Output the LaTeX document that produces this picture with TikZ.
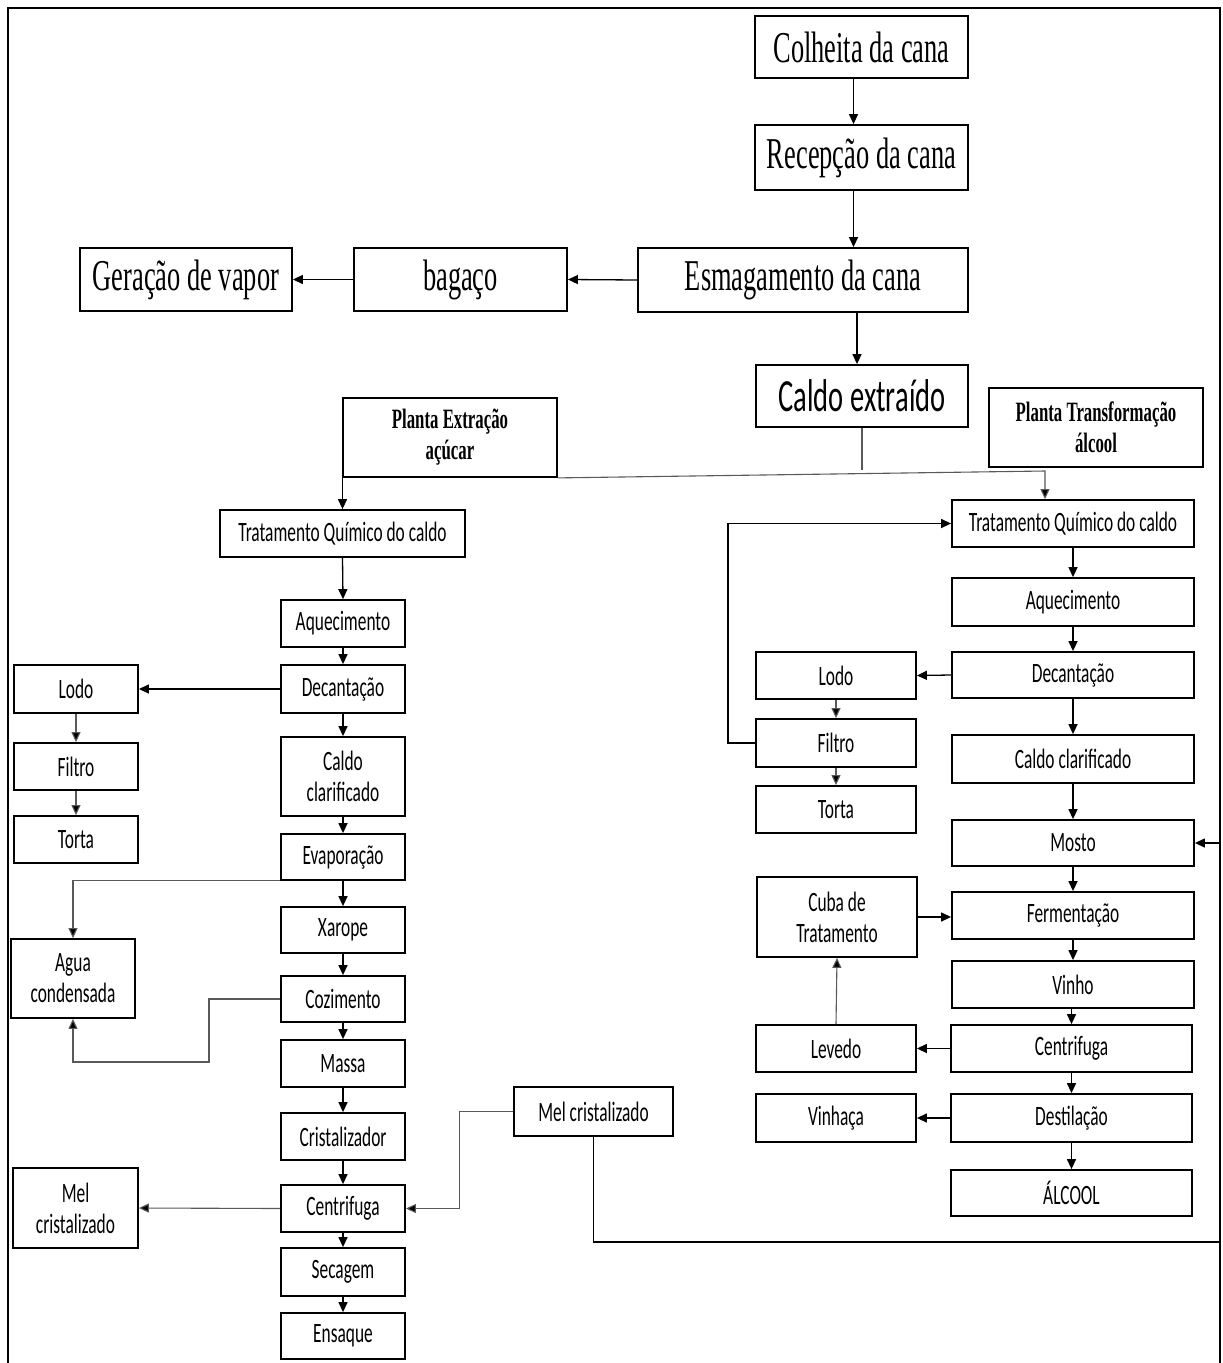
\documentclass[tikz,border=0pt]{standalone}
\usepackage{fontspec}
\newfontfamily\sansf{Carlito}[FakeStretch=0.62]
\newfontfamily\serf{Liberation Serif}[FakeStretch=0.6]
\usetikzlibrary{arrows.meta}

\begin{document}
\begin{tikzpicture}[x=1pt,y=-1pt,
  box/.style={draw,line width=1.8pt,inner sep=0pt,align=center,
    font=\sansf\fontsize{28}{31}\selectfont},
  bigbox/.style={box,font=\serf\fontsize{44}{48}\selectfont},
  juicebox/.style={box,font=\sansf\fontsize{46}{50}\selectfont},
  plantbox/.style={box,font=\serf\bfseries\fontsize{28}{31}\selectfont},
  lk/.style={line width=1.3pt,-{Triangle[length=10pt,width=9pt]}},
  ln/.style={line width=1.1pt,draw=black!65},
  lka/.style={ln,-{Triangle[length=10pt,width=9pt,fill=black]}},
]
\useasboundingbox (0,0) rectangle (1223,1363);

% outer frame
\draw[line width=2.4pt] (8,1363) -- (8,8) -- (1220,8) -- (1220,1363);

% ---------- reception and milling ----------
\node[bigbox,minimum width=213pt,minimum height=62pt] (colheita) at (861.5,47) {Colheita da cana};
\node[bigbox,minimum width=213pt,minimum height=65pt] (recepcao) at (861.5,157.5) {Recepção da cana};
\node[bigbox,minimum width=330pt,minimum height=64pt] (esmag) at (803,280) {Esmagamento da cana};
\node[bigbox,minimum width=213pt,minimum height=63pt] (bagaco) at (460.5,279.5) {bagaço};
\node[bigbox,minimum width=212pt,minimum height=63pt] (geracao) at (186,279.5) {Geração de vapor};
\node[juicebox,minimum width=212pt,minimum height=62pt] (caldoext) at (862,396) {Caldo extraído};

\node[plantbox,minimum width=214pt,minimum height=79pt] (plantaE) at (450,437.5) {Planta Extração\\açúcar};
\node[plantbox,minimum width=214pt,minimum height=79pt] (plantaT) at (1096,427.5) {Planta Transformação\\álcool};

% ---------- sugar plant ----------
\node[box,minimum width=245pt,minimum height=47pt] (tqL) at (342.5,533.5) {Tratamento Químico do caldo};
\node[box,minimum width=124pt,minimum height=47pt] (aqL) at (343,623.5) {Aquecimento};
\node[box,minimum width=124pt,minimum height=48pt] (decL) at (343,689) {Decantação};
\node[box,minimum width=124pt,minimum height=79pt] (ccL) at (343,776.5) {Caldo\\clarificado};
\node[box,minimum width=124pt,minimum height=46pt] (evL) at (343,857) {Evaporação};
\node[box,minimum width=124pt,minimum height=46pt] (xaL) at (343,930) {Xarope};
\node[box,minimum width=124pt,minimum height=46pt] (cozL) at (343,999) {Cozimento};
\node[box,minimum width=124pt,minimum height=47pt] (masL) at (343,1063.5) {Massa};
\node[box,minimum width=124pt,minimum height=47pt] (criL) at (343,1136.5) {Cristalizador};
\node[box,minimum width=124pt,minimum height=47pt] (cenL) at (343,1208.5) {Centrifuga};
\node[box,minimum width=124pt,minimum height=48pt] (secL) at (343,1272) {Secagem};
\node[box,minimum width=124pt,minimum height=46pt] (ensL) at (343,1336) {Ensaque};

\node[box,minimum width=124pt,minimum height=48pt] (lodoL) at (76,689) {Lodo};
\node[box,minimum width=124pt,minimum height=47pt] (filL) at (76,766.5) {Filtro};
\node[box,minimum width=124pt,minimum height=47pt] (torL) at (76,839.5) {Torta};
\node[box,minimum width=124pt,minimum height=79pt] (aguaL) at (73,978.5) {Agua\\condensada};
\node[box,minimum width=125pt,minimum height=80pt] (melL) at (75.5,1208) {Mel\\cristalizado};
\node[box,minimum width=159pt,minimum height=49pt] (melM) at (593.5,1111.5) {Mel cristalizado};

% ---------- alcohol plant ----------
\node[box,minimum width=242pt,minimum height=47pt] (tqR) at (1073,523.5) {Tratamento Químico do caldo};
\node[box,minimum width=242pt,minimum height=48pt] (aqR) at (1073,602) {Aquecimento};
\node[box,minimum width=242pt,minimum height=46pt] (decR) at (1073,675) {Decantação};
\node[box,minimum width=242pt,minimum height=48pt] (ccR) at (1073,759) {Caldo clarificado};
\node[box,minimum width=242pt,minimum height=46pt] (mosR) at (1073,843) {Mosto};
\node[box,minimum width=242pt,minimum height=47pt] (ferR) at (1073,915.5) {Fermentação};
\node[box,minimum width=242pt,minimum height=47pt] (vinR) at (1073,984.5) {Vinho};
\node[box,minimum width=241pt,minimum height=47pt] (cenR) at (1071.5,1048.5) {Centrifuga};
\node[box,minimum width=241pt,minimum height=48pt] (desR) at (1071.5,1118) {Destilação};
\node[box,minimum width=241pt,minimum height=46pt] (alcR) at (1071.5,1193) {ÁLCOOL};

\node[box,minimum width=160pt,minimum height=47pt] (lodoR) at (836,675.5) {Lodo};
\node[box,minimum width=160pt,minimum height=48pt] (filR) at (836,743) {Filtro};
\node[box,minimum width=160pt,minimum height=47pt] (torR) at (836,809.5) {Torta};
\node[box,minimum width=160pt,minimum height=80pt] (cubaR) at (837,917) {Cuba de\\Tratamento};
\node[box,minimum width=160pt,minimum height=47pt] (levR) at (836,1048.5) {Levedo};
\node[box,minimum width=160pt,minimum height=48pt] (vinhR) at (836,1118) {Vinhaça};

% ---------- connectors: reception and milling ----------
\draw[lk] ([xshift=-8pt]colheita.south) -- ([xshift=-8pt]recepcao.north);
\draw[lk] ([xshift=-8pt]recepcao.south) -- ([xshift=-8pt]recepcao.south |- esmag.north);
\draw[lk] (esmag.west) -- (bagaco.east);
\draw[lk] (bagaco.west) -- (geracao.east);
\draw[lk] ([xshift=-5pt]caldoext.north |- esmag.south) -- ([xshift=-5pt]caldoext.north);

% juice split towards both plants
\coordinate (split) at (862,470);
\coordinate (bend) at (1045,471);
\draw[ln] (caldoext.south) -- (split);
\draw[lka] (plantaE.south east) -- (bend) -- (bend |- tqR.north);
\draw[lk] (tqL.north |- plantaE.south) -- (tqL.north);

% ---------- connectors: sugar plant ----------
\draw[lk] (tqL.south) -- (aqL.north);
\draw[lk] (aqL.south) -- (decL.north);
\draw[lk] (decL.south) -- (ccL.north);
\draw[lk] (ccL.south) -- (evL.north);
\draw[lk] (evL.south) -- (xaL.north);
\draw[lk] (xaL.south) -- (cozL.north);
\draw[lk] (cozL.south) -- (masL.north);
\draw[lk] (masL.south) -- (criL.north);
\draw[lk] (criL.south) -- (cenL.north);
\draw[lk] (cenL.south) -- (secL.north);
\draw[lk] (secL.south) -- (ensL.north);

\draw[lk] (decL.west) -- (lodoL.east);
\draw[lka] (lodoL.south) -- (filL.north);
\draw[lka] (filL.south) -- (torL.north);
\draw[lka] (evL.south west) -- (aguaL.north |- evL.south west) -- (aguaL.north);
\coordinate (cozturn) at (209,1062);
\draw[lka] (cozL.west) -| (cozturn) -| (aguaL.south);
\draw[lka] (cenL.west) -- (melL.east);
\draw[lka] (melM.west) -- ++(-54,0) |- (cenL.east);

% molasses back to the must
\coordinate (melturn) at (1220,1242);
\draw[lk] (melM.south) |- (melturn) |- (mosR.east);

% ---------- connectors: alcohol plant ----------
\draw[lk] (tqR.south) -- (aqR.north);
\draw[lk] (aqR.south) -- (decR.north);
\draw[lk] (decR.south) -- (ccR.north);
\draw[lk] (ccR.south) -- (mosR.north);
\draw[lk] (mosR.south) -- (ferR.north);
\draw[lk] (ferR.south) -- (vinR.north);
\draw[lk] (vinR.south -| cenR.north) -- (cenR.north);
\draw[lk] (cenR.south) -- (desR.north);
\draw[lk] (desR.south) -- (alcR.north);

\draw[lk] (decR.west) -- (lodoR.east);
\draw[lka] (lodoR.south) -- (filR.north);
\draw[lka] (filR.south) -- (torR.north);
\draw[lk] (filR.west) -- ++(-27,0) |- (tqR.west);
\draw[lk] (cubaR.east) -- (cubaR.east -| ferR.west);
\draw[lka] (levR.north) -- (cubaR.south);
\draw[lk] (cenR.west) -- (levR.east);
\draw[lk] (desR.west) -- (vinhR.east);
\end{tikzpicture}
\end{document}
